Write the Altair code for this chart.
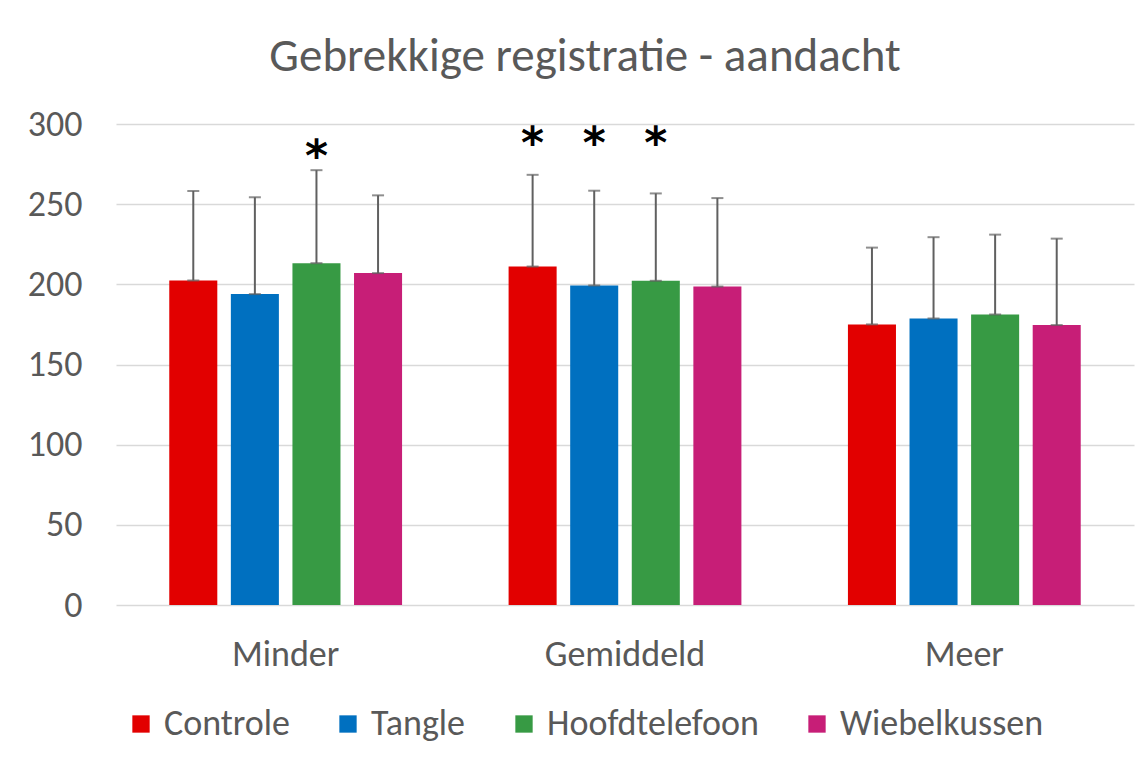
import altair as alt
import pandas as pd

groups = ["Minder", "Gemiddeld", "Meer"]
series = ["Controle", "Tangle", "Hoofdtelefoon", "Wiebelkussen"]
colors = ["#E20000", "#0070C0", "#379A44", "#C71E77"]

means = {
    "Controle": [202.4, 211.1, 175.0],
    "Tangle": [193.9, 199.3, 178.7],
    "Hoofdtelefoon": [213.2, 202.2, 181.2],
    "Wiebelkussen": [207.0, 198.6, 174.6],
}
sds = {
    "Controle": [55.8, 57.2, 47.9],
    "Tangle": [60.4, 59.1, 50.7],
    "Hoofdtelefoon": [58.0, 54.5, 49.8],
    "Wiebelkussen": [48.5, 55.2, 53.9],
}

star_groups = ["Minder", "Gemiddeld", "Gemiddeld", "Gemiddeld"]
star_series = ["Hoofdtelefoon", "Controle", "Tangle", "Hoofdtelefoon"]
star_heights = [279, 287, 287, 287]

rows = []
for s in series:
    for i, g in enumerate(groups):
        m = means[s][i]
        rows.append({"groep": g, "serie": s, "gem": m, "boven": m + sds[s][i]})
df = pd.DataFrame(rows)
stars = pd.DataFrame({"groep": star_groups, "serie": star_series, "h": star_heights, "t": ["*"] * 4})

FONT = "Carlito, Lato, sans-serif"
GREY = "#595959"

x = alt.X(
    "groep:N",
    sort=groups,
    title=None,
    scale=alt.Scale(paddingInner=0.274, paddingOuter=0.137),
    axis=alt.Axis(labelAngle=0, ticks=False, domain=False, labelPadding=32,
                  labelFontSize=36, labelColor=GREY, labelFont=FONT),
)
xo = alt.XOffset("serie:N", sort=series, scale=alt.Scale(paddingInner=0.22, paddingOuter=0.11))
yscale = alt.Scale(domain=[0, 300], nice=False)

bars = alt.Chart(df).mark_bar().encode(
    x=x,
    xOffset=xo,
    y=alt.Y("gem:Q", scale=yscale, title=None,
            axis=alt.Axis(values=[0, 50, 100, 150, 200, 250, 300], ticks=False, domain=False,
                          labelPadding=34, labelFontSize=36, labelColor=GREY, labelFont=FONT,
                          gridColor="#D9D9D9", gridWidth=1.4)),
    color=alt.Color("serie:N", sort=series, scale=alt.Scale(domain=series, range=colors),
                    legend=alt.Legend(title=None, orient="none", direction="horizontal",
                                      legendX=7, legendY=582, symbolType="square",
                                      symbolSize=300, symbolStrokeWidth=0, symbolOpacity=1,
                                      labelFontSize=36, labelColor=GREY, labelFont=FONT,
                                      labelLimit=400, columnPadding=40, labelOffset=5)),
)

err = alt.Chart(df).mark_rule(color="#606060", strokeWidth=2).encode(
    x=alt.X("groep:N", sort=groups), xOffset=xo, y="gem:Q", y2="boven:Q"
)
cap_top = alt.Chart(df).mark_tick(color="#606060", thickness=2, size=12, orient="horizontal").encode(
    x=alt.X("groep:N", sort=groups), xOffset=xo, y="boven:Q"
)
cap_bot = alt.Chart(df).mark_tick(color="#606060", thickness=2, size=12, orient="horizontal").encode(
    x=alt.X("groep:N", sort=groups), xOffset=xo, y="gem:Q"
)
star = alt.Chart(stars).mark_text(fontSize=44, font="DejaVu Sans", fontWeight="bold",
                                  color="#000000", baseline="middle").encode(
    x=alt.X("groep:N", sort=groups), xOffset=xo, y="h:Q", text="t:N"
)

chart = alt.layer(bars, err, cap_top, cap_bot, star).properties(
    width=1018,
    height=481,
    autosize=alt.AutoSizeParams(type="none"),
    padding={"left": 108, "top": 116, "right": 5, "bottom": 150},
    background="white",
    title=alt.TitleParams("Gebrekkige registratie - aandacht", fontSize=47, font=FONT,
                          color=GREY, fontWeight="normal", anchor="middle", dx=-40, offset=25),
).configure_view(stroke=None)

chart.save("out.html", embed_options={"renderer": "svg", "actions": False})
